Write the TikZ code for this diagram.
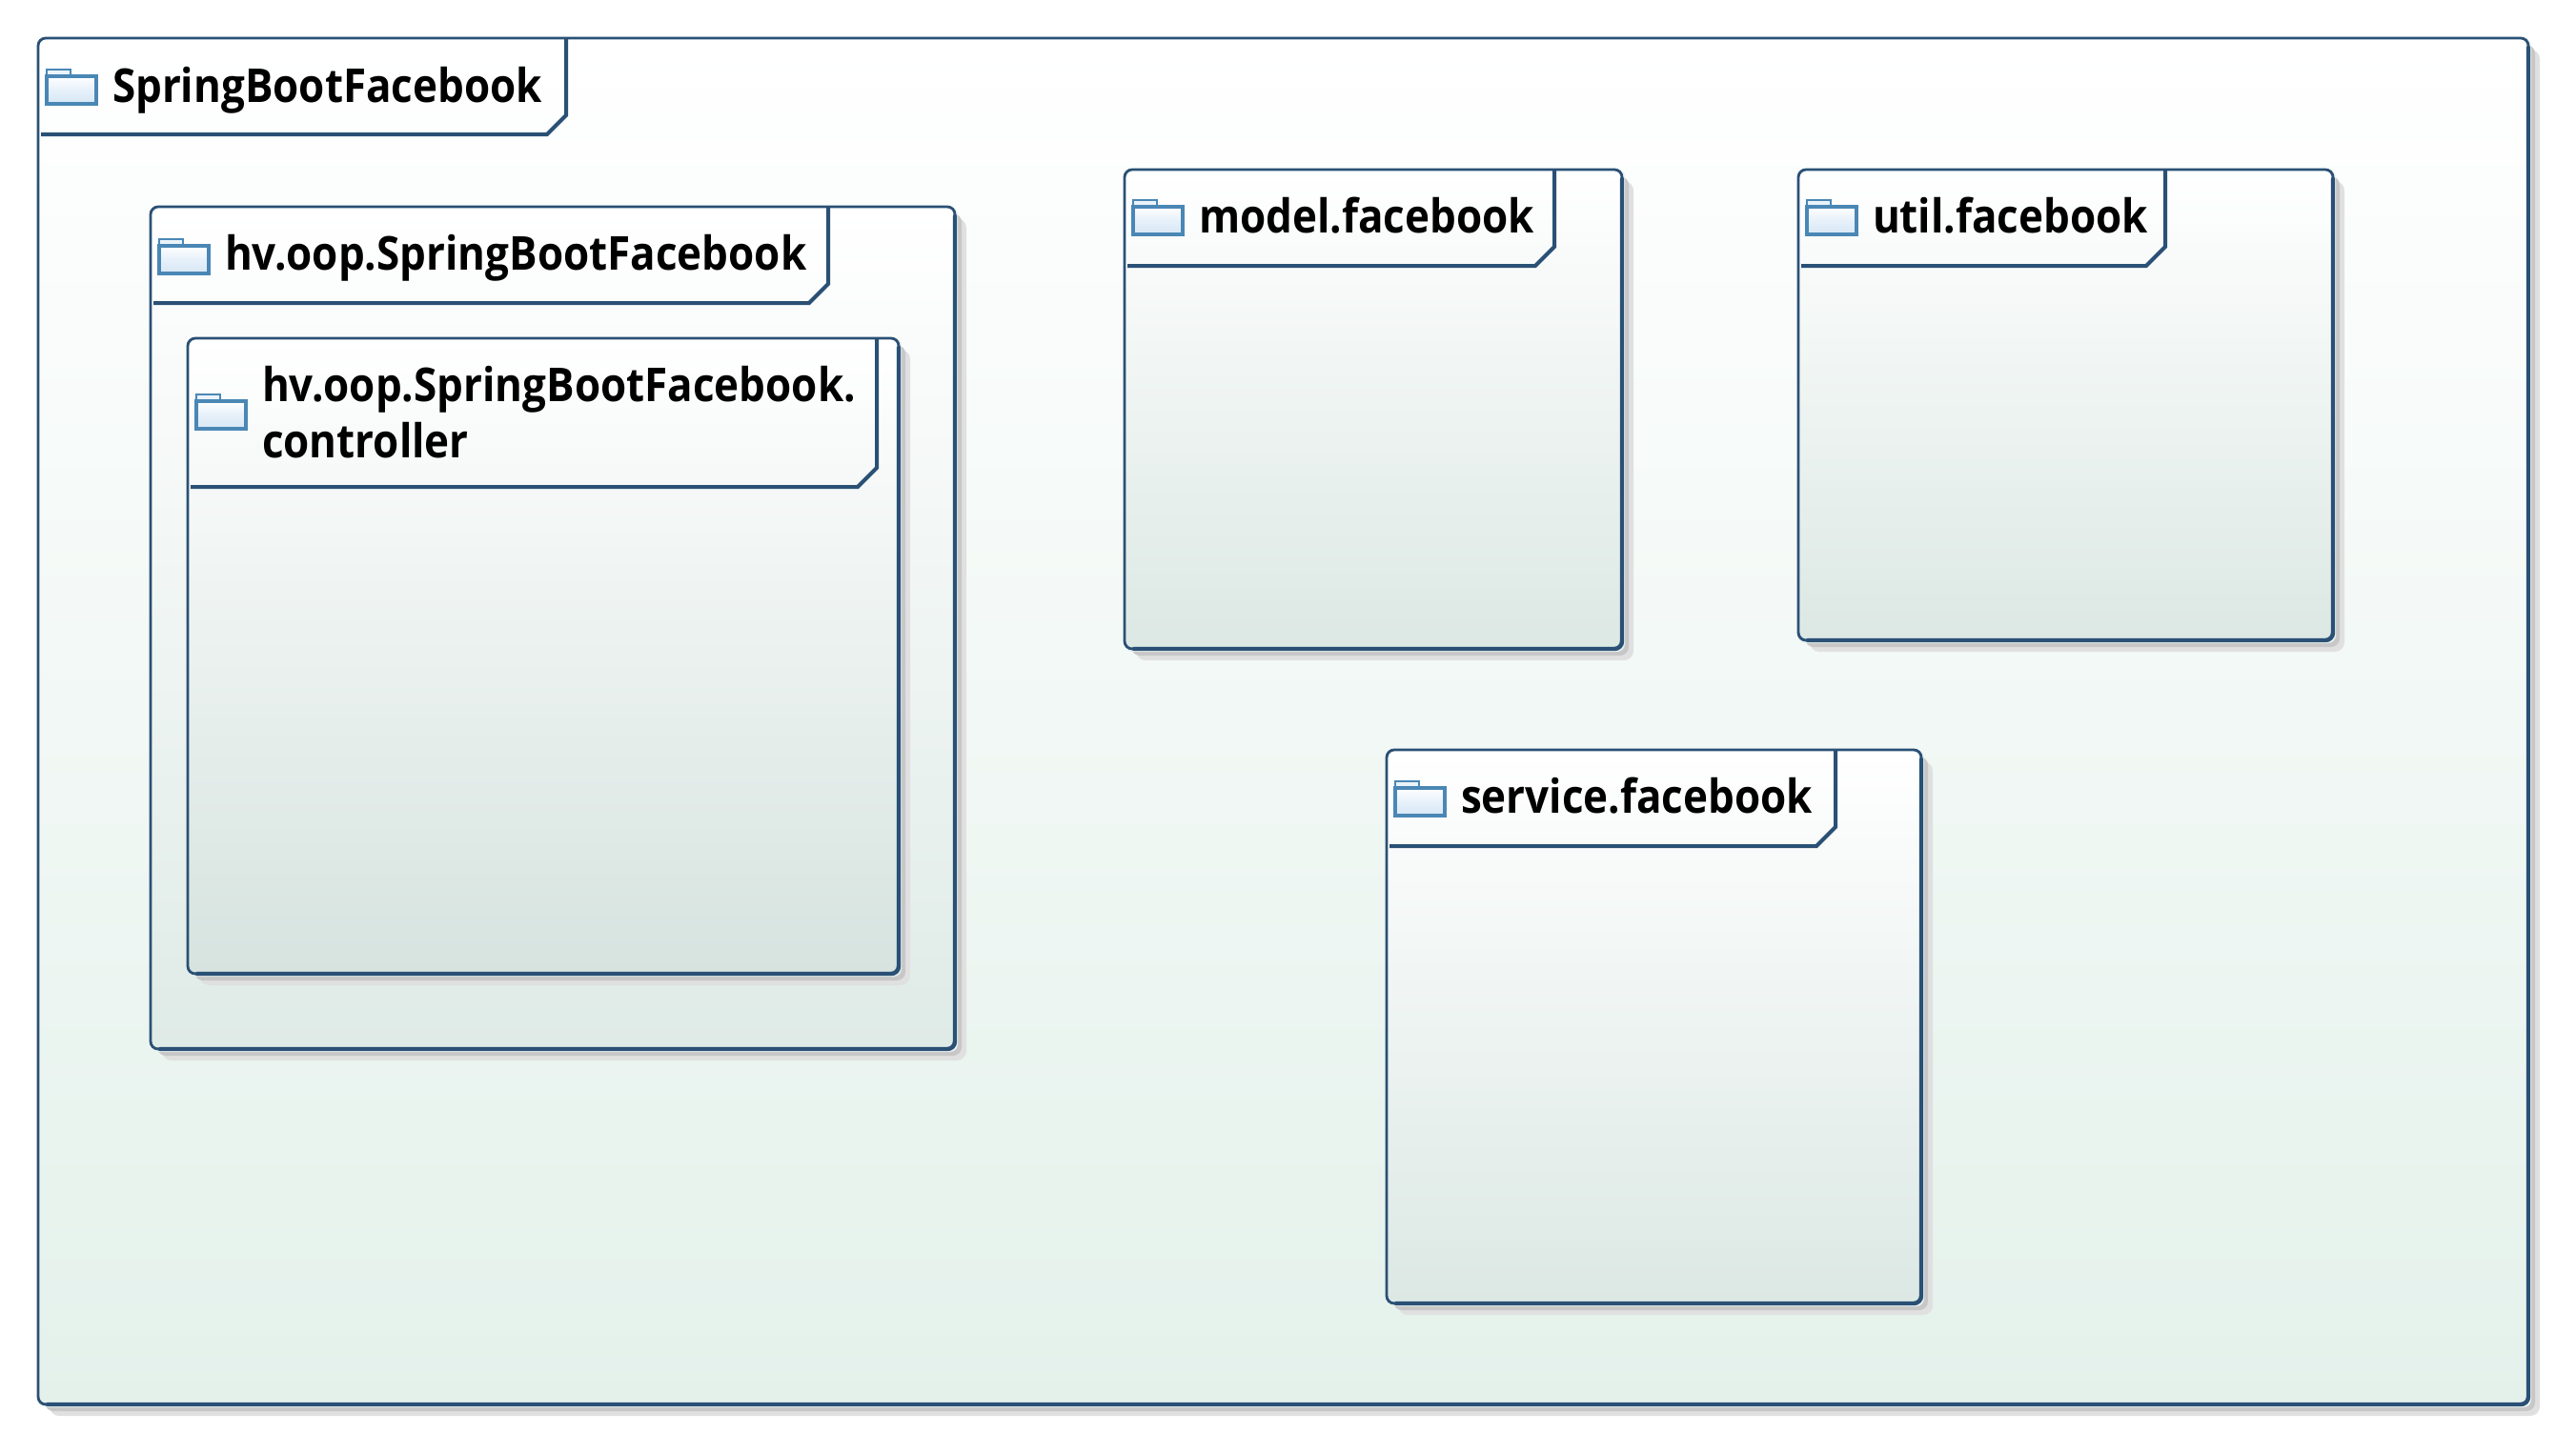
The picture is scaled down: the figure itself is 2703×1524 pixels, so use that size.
\documentclass[tikz,border=0pt]{standalone}
\usepackage{fontspec}
\setmainfont{Open Sans}[BoldFont={Open Sans Bold},FakeStretch=0.897]
\definecolor{edge}{HTML}{2A5075}
\definecolor{folderedge}{HTML}{4A87B5}
\definecolor{folderfill}{HTML}{D6E7F6}
\definecolor{rootbot}{HTML}{E4F1EB}
\definecolor{hvbot}{HTML}{DFEBE7}
\definecolor{ctrlbot}{HTML}{D6E3DF}
\definecolor{midbot}{HTML}{DCE8E4}
\tikzset{
  x=1pt,y=-1pt,
  pkgbox/.style={inner sep=0pt,outer sep=0pt,rectangle,rounded corners=8pt},
  frameline/.style={draw=edge,line width=2.8pt,line join=round},
  heavyline/.style={draw=edge,line width=4.4pt,line cap=round,rounded corners=8pt},
  tabline/.style={draw=edge,line width=4pt,line join=miter},
  pkglabel/.style={inner sep=0pt,outer sep=0pt,anchor=base west,font=\fontsize{49pt}{58pt}\selectfont\bfseries,align=left},
  iconbody/.style={draw=folderedge,line width=3.2pt,top color=white,bottom color=folderfill,middle color=folderfill!60},
}
% \pkg{name}{x1}{y1}{x2}{y2}{bottom fill}
\newcommand{\pkg}[6]{%
  \fill[black!12,rounded corners=10pt] (#2+12,#3+12) rectangle (#4+12,#5+12);
  \fill[black!22,rounded corners=9pt] (#2+7,#3+7) rectangle (#4+7,#5+7);
  \fill[#6!70!white,rounded corners=8pt] (#2,#3) rectangle (#4+3,#5+3);
  \node[pkgbox,minimum width=#4-#2,minimum height=#5-#3,top color=white,bottom color=#6,frameline,
        shape=rectangle] (#1) at ({(#2+#4)/2},{(#3+#5)/2}) {};
  \draw[heavyline] ([yshift=-10pt]#1.north east) -- (#1.south east) -- ([xshift=10pt]#1.south west);
}
% \pkgtab{name}{tabx}{taby}: the header notch of the package
\newcommand{\pkgtab}[3]{%
  \draw[tabline] (#2,0 |- #1.north) -- (#2,#3-20) -- (#2-20,#3) -- ([xshift=3pt]#1.west |- 0,#3);
}
% \icon{x}{y}: top left of the folder icon
\newcommand{\icon}[2]{%
  \draw[folderedge,line width=2.5pt,fill=folderfill!50] (#1+1,#2+1) rectangle (#1+26,#2+9);
  \draw[iconbody] (#1+1,#2+8) rectangle (#1+53,#2+37);
}
\begin{document}
\begin{tikzpicture}
\useasboundingbox (0,0) rectangle (2703,1524);
\fill[white] (0,0) rectangle (2703,1524);

\pkg{root}{40}{40}{2653}{1474}{rootbot}
\pkgtab{root}{594}{141}
\icon{48}{72}
\node[pkglabel] (rootlabel) at (118,107) {SpringBootFacebook};

\pkg{hv}{158}{217}{1002}{1101}{hvbot}
\pkgtab{hv}{869}{318}
\icon{166}{250}
\node[pkglabel] (hvlabel) at (236,283) {hv.oop.SpringBootFacebook};

\pkg{ctrl}{197}{355}{943}{1022}{ctrlbot}
\pkgtab{ctrl}{920}{511}
\icon{205}{413}
\node[pkglabel] (ctrllabel) at (275,421) {hv.oop.SpringBootFacebook.};
\node[pkglabel] (ctrllabeltwo) at (275,480) {controller};

\pkg{model}{1180}{178}{1702}{681}{midbot}
\pkgtab{model}{1631}{279}
\icon{1188}{209}
\node[pkglabel] (modellabel) at (1258,244) {model.facebook};

\pkg{util}{1887}{178}{2448}{672}{midbot}
\pkgtab{util}{2272}{279}
\icon{1895}{209}
\node[pkglabel] (utillabel) at (1965,244) {util.facebook};

\pkg{service}{1455}{787}{2016}{1368}{midbot}
\pkgtab{service}{1926}{888}
\icon{1463}{819}
\node[pkglabel] (servicelabel) at (1533,853) {service.facebook};
\end{tikzpicture}
\end{document}
